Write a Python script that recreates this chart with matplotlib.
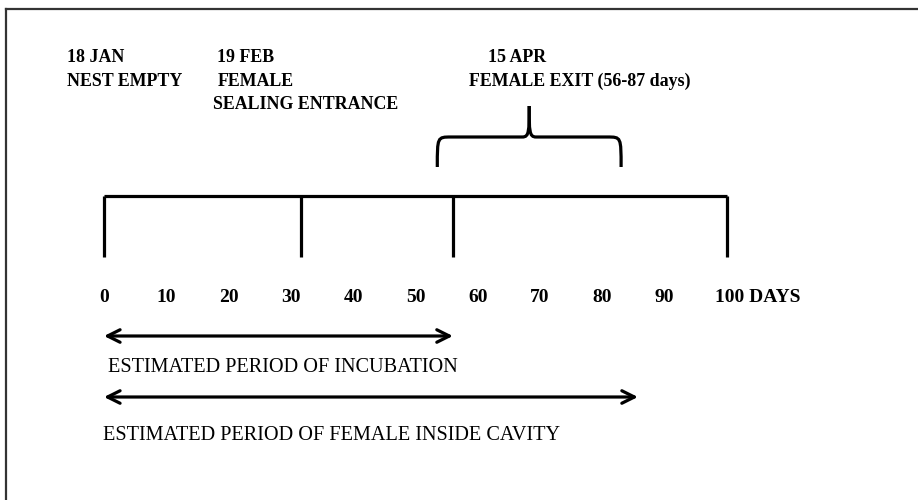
import matplotlib

matplotlib.use("Agg")
import matplotlib.pyplot as plt
from matplotlib.path import Path
from matplotlib.patches import PathPatch

# Timeline data (days since 18 JAN)
TICK_DAYS = [0, 10, 20, 30, 40, 50, 60, 70, 80, 90, 100]
TICK_LABELS = ["0", "10", "20", "30", "40", "50", "60", "70", "80", "90", "100 DAYS"]
MARKER_DAYS = [0, 31.6, 56, 100]
EXIT_RANGE = (53.5, 83.0)          # bracket drawn over the timeline
INCUBATION = (0, 56)
CAVITY = (0, 85.7)

EVENT_DATES = ["18 JAN", "19 FEB", "15 APR"]
EVENT_TEXT = [["NEST EMPTY"], ["FEMALE", "SEALING ENTRANCE"],
              ["FEMALE EXIT (56-87 days)"]]
PERIOD_TEXT = ["ESTIMATED PERIOD OF INCUBATION",
               "ESTIMATED PERIOD OF FEMALE INSIDE CAVITY"]

# pixel layout: day 0 -> x=104 px, day 100 -> x=727 px
PX_PER_DAY = 6.23
X0 = 104
W, H = 918, 500

fig = plt.figure(figsize=(W / 100, H / 100), dpi=100)
ax = fig.add_axes([0, 0, 1, 1])
ax.set_xlim(-X0 / PX_PER_DAY, (W - X0) / PX_PER_DAY)
ax.set_ylim(H, 0)
ax.axis("off")

# frame (top and left only)
fig.add_artist(plt.Line2D([6 / W, 1], [1 - 9 / H, 1 - 9 / H],
                          transform=fig.transFigure, color="#333333", lw=1.6))
fig.add_artist(plt.Line2D([6 / W, 6 / W], [0, 1 - 9 / H],
                          transform=fig.transFigure, color="#333333", lw=1.6))

LW = 2.3
ax.plot([MARKER_DAYS[0], MARKER_DAYS[-1]], [196, 196], color="black", lw=LW,
        solid_capstyle="butt")
for d in MARKER_DAYS:
    ax.plot([d, d], [196, 257], color="black", lw=LW, solid_capstyle="butt")

# curly bracket over the exit window
a, b = EXIT_RANGE
c = (a + b) / 2
r = 2.2
verts = [(a, 167), (a, 137), (a, 137), (a + r, 137),
         (c - r * 0.5, 137), (c, 137), (c, 131), (c, 106)]
codes = [Path.MOVETO, Path.CURVE4, Path.CURVE4, Path.CURVE4,
         Path.LINETO, Path.CURVE4, Path.CURVE4, Path.CURVE4]
ax.add_patch(PathPatch(Path(verts, codes), fill=False, lw=LW, color="black",
                       capstyle="butt"))
mirror = [(2 * c - x, y) for x, y in verts]
ax.add_patch(PathPatch(Path(mirror, codes), fill=False, lw=LW, color="black",
                       capstyle="butt"))

# tick labels
tick_font = dict(family="Liberation Serif", fontweight="bold", fontsize=14)
for d, lab in zip(TICK_DAYS, TICK_LABELS):
    if lab.endswith("DAYS"):
        ax.text(d - 2.0, 297, lab, ha="left", va="center", **tick_font)
    else:
        ax.text(d, 297, lab, ha="center", va="center", **tick_font)

# event annotations (date row, then description lines)
top_font = dict(family="Liberation Serif", fontsize=12.9, fontweight="bold",
                va="center", ha="left")
date_x = [-5.9, 18.2, 61.6]
line_x = [[-5.9], [18.3, 17.5], [58.6]]
for dx, date, lxs, lines in zip(date_x, EVENT_DATES, line_x, EVENT_TEXT):
    ax.text(dx, 57, date, **top_font)
    for i, (lx, line) in enumerate(zip(lxs, lines)):
        ax.text(lx, 81 + 23.5 * i, line, **top_font)

# period arrows
for (s, e), y, ty, lab, tx in zip([INCUBATION, CAVITY], [336, 397], [367, 436],
                                  PERIOD_TEXT, [0.6, -0.1]):
    ax.annotate("", xy=(e, y), xytext=(s, y),
                arrowprops=dict(arrowstyle="<->,head_length=0.9,head_width=0.45",
                                lw=LW, color="black", shrinkA=0, shrinkB=0))
    ax.text(tx, ty, lab, ha="left", va="center",
            family="Liberation Serif", fontsize=14.6)

fig.savefig("out.png", dpi=100)
